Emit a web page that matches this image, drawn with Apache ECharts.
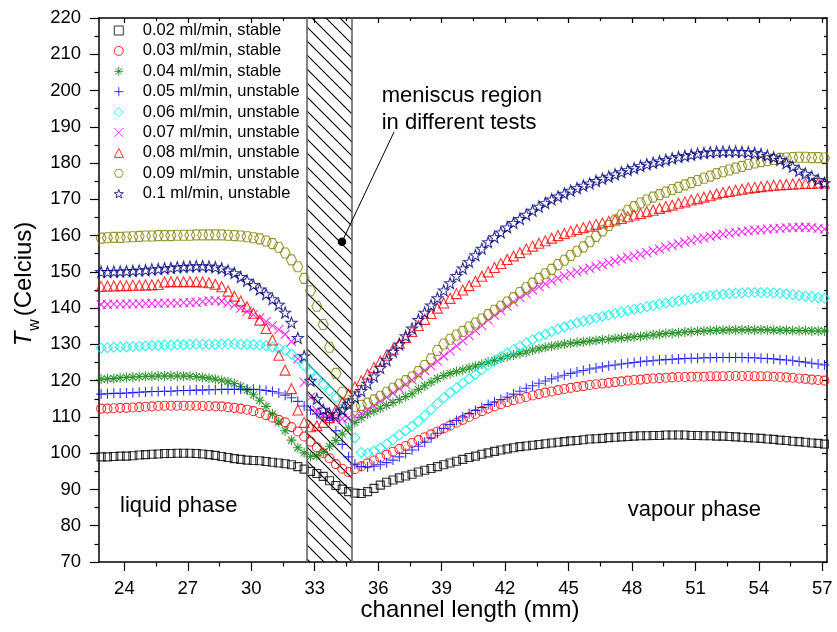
<!DOCTYPE html>
<html><head><meta charset="utf-8">
<script src="https://cdn.jsdelivr.net/npm/echarts@6/dist/echarts.min.js"></script>
<style>html,body{margin:0;padding:0;background:#fff}#c{width:837px;height:632px}</style>
</head><body><div id="c"></div>
<script>
// ---------------- data ----------------
const channelLength = [
22.9,23.2,23.5,23.8,24.1,24.4,24.7,25.0,25.3,25.6,
25.9,26.2,26.5,26.8,27.1,27.4,27.7,28.0,28.3,28.6,
28.9,29.2,29.5,29.8,30.1,30.4,30.7,31.0,31.3,31.6,
31.9,32.2,32.5,32.8,33.1,33.4,33.7,34.0,34.3,34.6,
34.9,35.2,35.5,35.8,36.1,36.4,36.7,37.0,37.3,37.6,
37.9,38.2,38.5,38.8,39.1,39.4,39.7,40.0,40.3,40.6,
40.9,41.2,41.5,41.8,42.1,42.4,42.7,43.0,43.3,43.6,
43.9,44.2,44.5,44.8,45.1,45.4,45.7,46.0,46.3,46.6,
46.9,47.2,47.5,47.8,48.1,48.4,48.7,49.0,49.3,49.6,
49.9,50.2,50.5,50.8,51.1,51.4,51.7,52.0,52.3,52.6,
52.9,53.2,53.5,53.8,54.1,54.4,54.7,55.0,55.3,55.6,
55.9,56.2,56.5,56.8,57.1];

const seriesNames = [
'0.02 ml/min, stable','0.03 ml/min, stable','0.04 ml/min, stable',
'0.05 ml/min, unstable','0.06 ml/min, unstable','0.07 ml/min, unstable',
'0.08 ml/min, unstable','0.09 ml/min, unstable','0.1 ml/min, unstable'];

const tw002 = [
99.0,99.0,99.1,99.2,99.2,99.3,99.5,99.6,99.7,99.8,
99.9,99.9,100.0,100.0,100.0,99.9,99.8,99.6,99.4,99.1,
98.8,98.5,98.3,98.1,98.0,97.9,97.7,97.5,97.3,97.1,
96.8,96.3,95.6,95.0,94.4,93.6,92.4,91.1,90.1,89.4,
89.0,88.9,89.4,90.3,91.2,92.0,92.6,93.2,93.7,94.2,
94.8,95.3,95.8,96.3,96.8,97.3,97.8,98.3,98.8,99.2,
99.7,100.1,100.5,100.9,101.2,101.5,101.8,102.0,102.2,102.4,
102.6,102.8,103.0,103.2,103.4,103.5,103.7,103.9,104.0,104.1,
104.3,104.4,104.5,104.6,104.7,104.8,104.8,104.9,104.9,105.0,
105.0,105.0,105.0,104.9,104.9,104.8,104.8,104.7,104.7,104.6,
104.5,104.4,104.3,104.2,104.1,103.9,103.8,103.6,103.5,103.3,
103.2,103.0,102.8,102.7,102.5];

const tw003 = [
112.3,112.3,112.4,112.5,112.5,112.6,112.7,112.8,112.9,113.0,
113.1,113.1,113.1,113.1,113.1,113.1,113.0,113.0,112.9,112.9,
112.7,112.5,112.3,112.0,111.6,111.1,110.5,109.8,109.2,108.5,
107.2,106.0,104.6,103.2,101.6,100.0,98.6,97.0,95.7,94.8,
95.6,96.4,97.2,98.0,98.8,99.6,100.4,101.2,102.0,102.8,
103.6,104.4,105.2,106.0,106.8,107.6,108.4,109.2,110.0,110.8,
111.6,112.3,112.9,113.5,114.1,114.6,115.0,115.5,115.9,116.3,
116.7,117.0,117.4,117.7,118.0,118.3,118.5,118.8,119.0,119.2,
119.4,119.6,119.8,120.0,120.2,120.3,120.5,120.6,120.7,120.8,
120.9,121.0,121.0,121.1,121.1,121.1,121.2,121.2,121.2,121.3,
121.3,121.3,121.3,121.2,121.2,121.2,121.1,121.0,120.9,120.8,
120.6,120.5,120.3,120.2,120.0];

const tw004 = [
120.4,120.5,120.6,120.8,120.9,121.0,121.1,121.2,121.2,121.3,
121.3,121.3,121.3,121.3,121.2,121.1,120.9,120.7,120.4,120.1,
119.7,119.2,118.4,117.4,116.1,114.6,112.9,110.8,108.6,106.2,
103.6,101.5,100.1,99.1,99.3,100.3,101.9,103.5,105.3,107.0,
108.5,109.8,110.8,111.6,112.4,113.2,114.0,114.8,115.6,116.4,
117.6,118.6,119.6,120.6,121.4,122.0,122.5,123.0,123.5,124.0,
124.5,125.1,125.6,126.1,126.6,127.1,127.5,127.9,128.4,128.8,
129.2,129.5,129.8,130.1,130.3,130.5,130.7,130.9,131.1,131.3,
131.4,131.6,131.8,131.9,132.1,132.2,132.4,132.6,132.8,133.0,
133.1,133.2,133.4,133.5,133.6,133.7,133.8,133.9,133.9,134.0,
134.0,134.0,134.0,134.0,134.0,134.0,133.9,133.9,133.9,133.8,
133.8,133.8,133.7,133.7,133.7];

const tw005 = [
116.3,116.4,116.5,116.5,116.6,116.7,116.8,116.9,117.0,117.0,
117.1,117.1,117.2,117.3,117.3,117.4,117.4,117.5,117.5,117.6,
117.6,117.6,117.6,117.6,117.6,117.5,117.3,117.0,116.6,116.0,
115.3,114.3,113.0,111.9,110.8,109.9,109.0,106.2,102.4,99.0,
97.0,96.3,96.2,96.4,96.8,97.4,98.1,99.0,99.9,100.9,
101.9,103.0,104.2,105.5,106.8,107.9,109.0,110.0,110.9,111.8,
112.6,113.4,114.1,114.8,115.5,116.3,117.1,117.9,118.6,119.3,
119.9,120.5,121.0,121.5,122.0,122.4,122.8,123.2,123.5,123.8,
124.1,124.3,124.6,124.8,125.0,125.2,125.4,125.5,125.7,125.8,
125.9,126.0,126.1,126.2,126.2,126.3,126.3,126.4,126.4,126.4,
126.4,126.4,126.3,126.3,126.2,126.1,126.0,125.8,125.7,125.5,
125.3,125.1,124.8,124.6,124.3];

const tw006 = [
129.0,129.1,129.2,129.3,129.3,129.4,129.5,129.6,129.7,129.7,
129.8,129.8,129.9,129.9,130.0,130.0,130.0,130.0,130.0,130.1,
130.1,130.1,130.0,130.0,129.9,129.8,129.6,129.3,128.9,128.4,
127.3,126.0,124.2,122.5,120.8,119.0,117.2,115.3,112.3,108.5,
104.2,100.2,100.0,100.6,101.4,102.5,103.7,105.0,106.2,107.4,
108.8,110.4,112.0,113.7,115.3,116.7,118.0,119.3,120.5,121.7,
123.0,124.3,125.5,126.6,127.6,128.6,129.5,130.4,131.3,132.1,
132.8,133.5,134.2,134.8,135.4,135.9,136.4,136.8,137.3,137.7,
138.1,138.5,138.9,139.3,139.7,140.0,140.4,140.7,141.1,141.4,
141.7,142.0,142.3,142.6,142.9,143.2,143.4,143.6,143.8,144.0,
144.1,144.2,144.3,144.3,144.3,144.3,144.2,144.1,143.9,143.7,
143.5,143.3,143.1,142.9,142.7];

const tw007 = [
141.0,141.0,141.1,141.1,141.2,141.2,141.2,141.3,141.3,141.3,
141.4,141.4,141.4,141.5,141.5,141.6,141.8,142.0,142.1,141.9,
141.4,140.8,140.0,139.1,138.2,137.3,136.3,135.2,134.1,132.8,
130.8,126.0,119.5,115.4,111.8,110.6,109.8,109.5,109.5,109.8,
110.2,111.0,112.0,113.1,114.3,115.4,116.6,117.8,119.0,120.2,
121.5,122.8,124.1,125.4,126.8,128.2,129.6,131.0,132.4,133.8,
135.2,136.7,138.0,139.3,140.5,141.7,142.9,144.0,145.0,145.9,
146.7,147.5,148.2,148.9,149.5,150.0,150.5,151.0,151.5,152.0,
152.5,153.0,153.5,154.0,154.4,154.8,155.3,155.8,156.3,156.8,
157.3,157.7,158.2,158.6,159.0,159.4,159.8,160.1,160.4,160.7,
160.9,161.1,161.3,161.5,161.6,161.8,161.9,162.0,162.1,162.2,
162.3,162.3,162.2,162.0,161.8];

const tw008 = [
146.0,146.1,146.1,146.2,146.2,146.3,146.3,146.4,146.4,146.5,
147.2,147.3,147.3,147.3,147.3,147.3,147.2,147.0,146.6,145.9,
144.7,143.3,142.0,140.4,138.6,136.7,134.4,131.2,127.0,122.9,
117.8,111.9,108.5,107.3,107.6,108.5,109.8,111.9,114.0,116.3,
118.3,120.0,121.8,123.6,125.4,127.0,128.7,130.3,131.9,133.6,
135.2,136.9,138.5,140.0,141.4,142.7,144.0,145.0,146.2,147.4,
148.8,150.0,151.2,152.3,153.4,154.4,155.3,156.3,157.1,157.9,
158.6,159.3,160.0,160.6,161.2,161.7,162.2,162.6,163.1,163.5,
163.9,164.3,164.7,165.2,165.7,166.1,166.6,167.0,167.5,168.0,
168.4,168.9,169.3,169.8,170.2,170.6,171.0,171.5,171.9,172.2,
172.5,172.8,173.1,173.3,173.5,173.7,173.9,174.0,174.1,174.2,
174.3,174.4,174.4,174.5,174.5];

const tw009 = [
159.3,159.4,159.5,159.5,159.6,159.7,159.8,159.9,159.9,160.0,
160.0,160.0,160.1,160.1,160.1,160.2,160.2,160.2,160.2,160.2,
160.1,160.0,159.9,159.7,159.4,159.1,158.5,157.8,156.8,155.2,
153.3,151.4,148.2,144.8,140.5,135.5,129.2,122.0,116.8,113.7,
112.8,113.2,113.8,114.7,115.7,116.8,117.9,119.0,120.0,121.0,
122.5,124.2,126.0,128.3,130.1,131.4,132.6,133.6,134.8,135.9,
137.0,138.2,139.4,140.5,141.7,142.9,144.3,145.6,146.9,148.2,
149.5,150.7,152.0,153.2,154.5,155.7,156.9,158.3,159.8,161.3,
162.8,164.3,165.7,167.0,168.0,169.0,169.8,170.6,171.3,172.0,
172.7,173.3,174.0,174.6,175.2,175.8,176.4,177.1,177.6,178.1,
178.6,179.1,179.6,180.0,180.4,180.7,181.0,181.3,181.4,181.5,
181.6,181.6,181.5,181.5,181.4];

const tw010 = [
150.0,150.0,150.1,150.1,150.2,150.3,150.4,150.5,150.7,150.8,
151.0,151.1,151.3,151.4,151.5,151.6,151.6,151.5,151.3,151.0,
150.4,149.7,148.6,147.6,146.4,145.2,143.9,142.5,141.0,138.8,
136.0,131.8,126.8,120.0,115.0,112.0,110.8,110.7,111.8,113.6,
115.4,117.2,119.2,121.2,123.5,125.7,128.0,130.0,132.3,134.4,
136.8,138.8,140.8,142.8,144.9,146.9,148.9,151.0,152.8,154.6,
156.4,158.2,159.6,160.9,162.3,163.5,164.6,165.8,166.9,168.0,
169.0,170.0,170.8,171.6,172.4,173.1,173.8,174.4,175.1,175.7,
176.3,176.9,177.5,178.1,178.6,179.2,179.7,180.1,180.5,180.9,
181.3,181.7,182.0,182.3,182.6,182.8,183.0,183.1,183.2,183.2,
183.2,183.1,183.0,182.8,182.5,182.1,181.6,180.9,180.0,179.0,
177.9,177.1,176.3,175.4,174.5];

const xMajorTicks = [24,27,30,33,36,39,42,45,48,51,54,57];
const xMinorTicks = [25.5,28.5,31.5,34.5,37.5,40.5,43.5,46.5,49.5,52.5,55.5];
const meniscusRange = [32.63, 34.76];
const pointerDot = [34.29, 158.3];
const pointerEnd = [36.75, 188.6];

// ---------------- styling ----------------
const FONT = '"Liberation Sans", Arial, Helvetica, sans-serif';
const SYM = {
  square: 'rect',
  circle: 'circle',
  asterisk: 'path://M0,5L10,5M5,0L5,10M1.5,1.5L8.5,8.5M8.5,1.5L1.5,8.5',
  plus: 'path://M0,5L10,5M5,0L5,10',
  diamond: 'diamond',
  cross: 'path://M0,0L10,10M10,0L0,10',
  triangle: 'triangle',
  hexagon: 'path://M0,5L2.5,0.67L7.5,0.67L10,5L7.5,9.33L2.5,9.33Z',
  star: 'path://M5,0L6.18,3.38L9.76,3.45L6.9,5.62L7.94,9.05L5,7L2.06,9.05L3.1,5.62L0.24,3.45L3.82,3.38Z'
};
const seriesValues = [tw002, tw003, tw004, tw005, tw006, tw007, tw008, tw009, tw010];
const looks = [
  {c:'#000000', s:SYM.square, z:8},
  {c:'#ff0000', s:SYM.circle, z:9},
  {c:'#008000', s:SYM.asterisk, z:10},
  {c:'#0000ff', s:SYM.plus, z:10},
  {c:'#00f0f0', s:SYM.diamond, z:10},
  {c:'#ff00ff', s:SYM.cross, z:9},
  {c:'#ff0000', s:SYM.triangle, z:10},
  {c:'#808000', s:SYM.hexagon, z:10},
  {c:'#000080', s:SYM.star, z:11}
];

// hatch pattern
const pc = document.createElement('canvas');
pc.width = 14; pc.height = 14;
const g = pc.getContext('2d');
g.strokeStyle = '#000'; g.lineWidth = 1.1;
g.beginPath();
g.moveTo(-2,-2); g.lineTo(16,16);
g.moveTo(-2,12); g.lineTo(2,16);
g.moveTo(12,-2); g.lineTo(16,2);
g.stroke();

const chart = echarts.init(document.getElementById('c'), null, {renderer:'canvas', width:837, height:632});

const axisLineStyle = {color:'#000', width:1.5};
const tickStyle = {color:'#000', width:1.2};
const X_MIN = 22.8, X_MAX = 57.22;

const dataSeries = seriesValues.map((vals, i) => ({
  type: 'scatter',
  name: seriesNames[i],
  xAxisIndex: 0, yAxisIndex: 0,
  data: channelLength.map((x, k) => [x, vals[k]]),
  symbol: looks[i].s,
  symbolSize: looks[i].z,
  itemStyle: {color: 'transparent', borderColor: looks[i].c, borderWidth: 1.1},
  emphasis: {disabled: true},
  silent: true,
  z: 3
}));

const helper = {
  type: 'scatter', name: '__helper', xAxisIndex: 0, yAxisIndex: 0, data: [], z: 2, silent: true,
  markArea: {
    silent: true,
    itemStyle: {color: {image: pc, repeat: 'repeat'}, borderWidth: 0},
    data: [[{xAxis: meniscusRange[0]}, {xAxis: meniscusRange[1]}]]
  },
  markLine: {
    silent: true, symbol: ['none','none'], animation: false,
    label: {show: false},
    lineStyle: {type: 'solid'},
    data: [
      {xAxis: meniscusRange[0], lineStyle: {color:'#666', width:1.6, type:'solid'}},
      {xAxis: meniscusRange[1], lineStyle: {color:'#666', width:1.6, type:'solid'}},
      [{coord: pointerDot, lineStyle: {color:'#000', width:1, type:'solid'}}, {coord: pointerEnd}]
    ]
  },
  markPoint: {
    silent: true, symbol: 'circle', symbolSize: 8.5,
    itemStyle: {color:'#000', borderWidth: 0},
    label: {show: false},
    data: [{coord: pointerDot}]
  }
};

const txt = (x, y, text, size, extra) => Object.assign({
  type: 'text', x: x, y: y, silent: true,
  style: Object.assign({text: text, fontSize: size, fontFamily: FONT, fill: '#000', align: 'left', verticalAlign: 'middle'}, extra && extra.style || {})
}, extra && extra.el || {});

chart.setOption({
  animation: false,
  backgroundColor: '#fff',
  grid: {left: 99, top: 18, right: 10, bottom: 70, outerBoundsMode: 'none'},
  legend: {
    orient: 'vertical', left: 113.8, top: 22, padding: 0,
    itemGap: 3.4, itemWidth: 9, itemHeight: 9,
    selectedMode: false,
    data: seriesNames,
    itemStyle: {borderWidth: 1},
    textStyle: {fontSize: 16.5, fontFamily: FONT, color: '#000', rich: {g: {width: 14.5}}},
    formatter: n => '{g|}' + n
  },
  xAxis: [
    {type:'value', min:X_MIN, max:X_MAX, position:'bottom',
     axisLine:{show:true, onZero:false, lineStyle:axisLineStyle},
     axisTick:{show:true, customValues:xMajorTicks, length:9, lineStyle:tickStyle},
     axisLabel:{show:true, customValues:xMajorTicks, fontSize:18.5, fontFamily:FONT, color:'#000', margin:17},
     splitLine:{show:false}},
    {type:'value', min:X_MIN, max:X_MAX, position:'bottom',
     axisLine:{show:false}, axisTick:{show:true, customValues:xMinorTicks, length:4.5, lineStyle:tickStyle},
     axisLabel:{show:false}, splitLine:{show:false}},
    {type:'value', min:X_MIN, max:X_MAX, position:'top',
     axisLine:{show:true, onZero:false, lineStyle:axisLineStyle},
     axisTick:{show:true, inside:true, customValues:xMajorTicks, length:5, lineStyle:tickStyle},
     axisLabel:{show:false}, splitLine:{show:false}},
    {type:'value', min:X_MIN, max:X_MAX, position:'top',
     axisLine:{show:false}, axisTick:{show:true, inside:true, customValues:xMinorTicks, length:3, lineStyle:tickStyle},
     axisLabel:{show:false}, splitLine:{show:false}}
  ],
  yAxis: [
    {type:'value', min:70, max:220, interval:10, position:'left',
     axisLine:{show:true, onZero:false, lineStyle:axisLineStyle},
     axisTick:{show:true, length:9, lineStyle:tickStyle},
     minorTick:{show:true, splitNumber:2, length:4.5, lineStyle:tickStyle},
     axisLabel:{fontSize:18.5, fontFamily:FONT, color:'#000', margin:18},
     splitLine:{show:false}, minorSplitLine:{show:false}},
    {type:'value', min:70, max:220, interval:10, position:'right',
     axisLine:{show:true, onZero:false, lineStyle:axisLineStyle},
     axisTick:{show:true, inside:true, length:5, lineStyle:tickStyle},
     minorTick:{show:true, splitNumber:2, length:3, lineStyle:tickStyle},
     axisLabel:{show:false}, splitLine:{show:false}, minorSplitLine:{show:false}}
  ],
  series: [helper].concat(dataSeries),
  graphic: [
    txt(470, 610, 'channel length (mm)', 24, {style:{align:'center'}}),
    txt(24, 269, '(Celcius)', 24, {style:{align:'center'}, el:{rotation: Math.PI/2}}),
    txt(24, 339, 'T', 24, {style:{align:'center', fontStyle:'italic'}, el:{rotation: Math.PI/2}}),
    txt(35, 325, 'w', 16, {style:{align:'center'}, el:{rotation: Math.PI/2}}),
    txt(381.7, 96, 'meniscus region', 22),
    txt(381.7, 122.7, 'in different tests', 22),
    txt(120, 506, 'liquid phase', 22),
    txt(627.7, 510, 'vapour phase', 22)
  ]
});
</script>
</body></html>
